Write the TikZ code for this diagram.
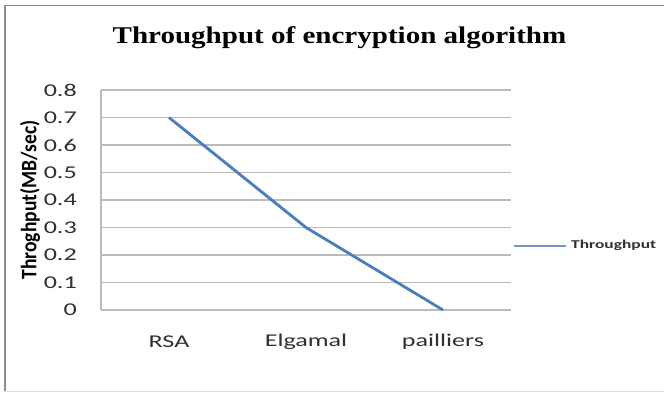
\documentclass[tikz,border=0pt]{standalone}
\usepackage{fontspec}
\setmainfont{Carlito}
\newfontfamily\titlefont{Liberation Serif}
\usepackage{graphicx}
\newcommand{\sx}[2][1.45]{\scalebox{#1}[1]{#2}}
\definecolor{framegray}{HTML}{8C8C8C}
\definecolor{botgray}{HTML}{DADADA}
\definecolor{gridgray}{HTML}{BABABA}
\definecolor{serblue}{HTML}{4A7EBB}
\definecolor{txtgray}{HTML}{303030}
\tikzset{
  gridline/.style={draw=gridgray, line width=1.4pt},
  ticklbl/.style={anchor=east, inner sep=0pt, text=txtgray, font=\fontsize{18}{20}\selectfont},
  catlbl/.style={anchor=center, inner sep=0pt, text=txtgray, font=\fontsize{18}{20}\selectfont},
  series/.style={draw=serblue, line width=2.8pt},
}
\begin{document}
\begin{tikzpicture}[x=1pt,y=-1pt]
\useasboundingbox (0,0) rectangle (664,392);
\fill[white] (0,0) rectangle (664,392);
% frame
\draw[framegray, line width=1.3pt] (5,391) -- (5,5.5) -- (664,5.5);
\draw[botgray, line width=1pt] (5,391) -- (664,391);
% title
\node[anchor=base, inner sep=0pt, font=\titlefont\bfseries\fontsize{24}{26}\selectfont] (title) at (339.5,43) {\sx[1.21]{Throughput of encryption algorithm}};
% grid
\foreach \i in {0,...,8} {
  \draw[gridline] (101,{310-27.5*\i}) -- (511,{310-27.5*\i});
}
\draw[gridline] (101,90) -- (101,310);
% tick labels
\node[ticklbl] (t0) at (77,310) {\sx{0}};
\foreach \i in {1,...,8} {
  \node[ticklbl] (t\i) at (77,{310-27.5*\i}) {\sx{0.\i}};
}
% axis title
\node[rotate=90, inner sep=0pt, text=black, font=\bfseries\fontsize{17}{19}\selectfont] (ytitle) at (30,200) {\scalebox{1.15}[1.3]{Throghput(MB/sec)}};
% categories
\node[catlbl] (c1) at (169,342) {\sx{RSA}};
\node[catlbl] (c2) at (306,342) {\sx{Elgamal}};
\node[catlbl] (c3) at (443,342) {\sx{pailliers}};
% data
\coordinate (p1) at (169,117.5);
\coordinate (p2) at (306,227.5);
\coordinate (p3) at (443,310);
\draw[series, line join=round] (p1) -- (p2) -- (p3);
% legend
\coordinate (l1) at (514,245.7);
\coordinate (l2) at (566,245.7);
\draw[series, line width=2.2pt, draw=serblue!80] (l1) -- (l2);
\node[anchor=west, inner sep=0pt, text=txtgray, font=\bfseries\fontsize{12}{14}\selectfont] (leg) at (571,245.7) {\sx[1.45]{Throughput}};
\end{tikzpicture}
\end{document}
